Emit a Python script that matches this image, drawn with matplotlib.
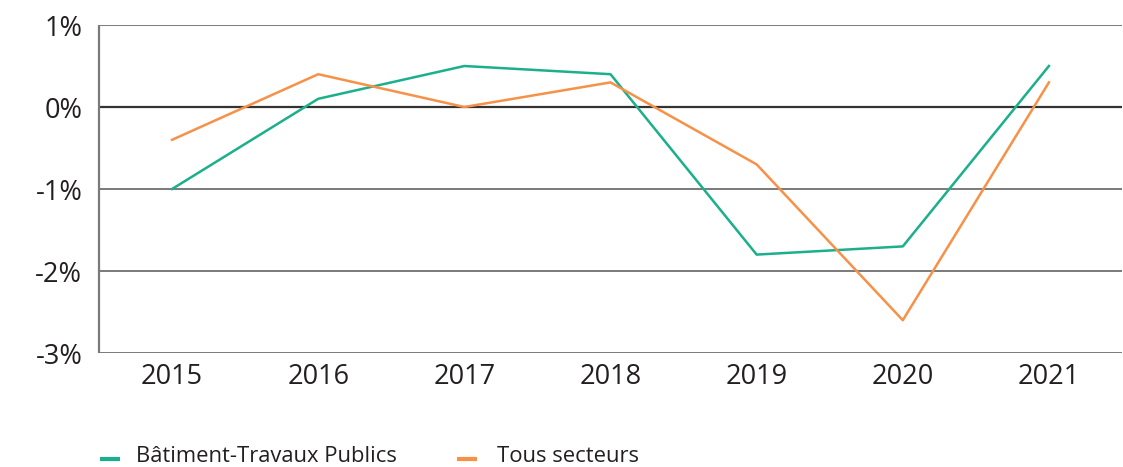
import matplotlib
matplotlib.use("Agg")
import matplotlib.pyplot as plt
from matplotlib.lines import Line2D

plt.rcParams['font.family'] = ['Open Sans', 'DejaVu Sans']

years = ["2015", "2016", "2017", "2018", "2019", "2020", "2021"]
btp = [-1.0, 0.1, 0.5, 0.4, -1.8, -1.7, 0.5]
tous = [-0.4, 0.4, 0.0, 0.3, -0.7, -2.6, 0.3]
y_ticks = [-3, -2, -1, 0, 1]
y_labels = ["-3%", "-2%", "-1%", "0%", "1%"]
series_names = ["Bâtiment-Travaux Publics", "Tous secteurs"]

green = "#1BAF8C"
orange = "#F79148"
txt = "#231F20"

W, H = 1123, 467
fig = plt.figure(figsize=(W / 100, H / 100), dpi=100)
ax = fig.add_axes([99 / W, 1 - 353 / H, 1023 / W, 328 / H])

x = list(range(len(years)))
ax.plot(x, btp, color=green, lw=1.8, zorder=3)
ax.plot(x, tous, color=orange, lw=1.8, zorder=3)

for t in y_ticks:
    ax.axhline(t, color="#333333" if t == 0 else "#7a7a7a",
               lw=1.6 if t == 0 else 1.4, zorder=1)

ax.set_xlim(-0.5, 6.5)
ax.set_ylim(-3, 1)
ax.set_xticks(x)
ax.set_xticklabels(years)
ax.set_yticks(y_ticks)
ax.set_yticklabels(y_labels)
ax.tick_params(axis="both", length=0, labelsize=19.5, colors=txt)
ax.tick_params(axis="y", pad=12)
ax.tick_params(axis="x", pad=7)
for s in ["top", "right", "bottom"]:
    ax.spines[s].set_visible(False)
ax.spines["left"].set_color("#7a7a7a")
ax.spines["left"].set_linewidth(1.6)
ax.spines["left"].set_capstyle("butt")

# legend drawn by hand beneath the plot
legend_items = [(100, 136, green), (457, 497, orange)]
for (hx, tx, col), name in zip(legend_items, series_names):
    fig.add_artist(Line2D([hx / W, (hx + 20) / W], [1 - 459 / H] * 2,
                          color=col, lw=3.0, solid_capstyle="butt"))
    fig.text(tx / W, 1 - 462 / H, name, fontsize=15.8, color=txt,
             va="baseline", ha="left")

fig.savefig("out.png", dpi=100)
